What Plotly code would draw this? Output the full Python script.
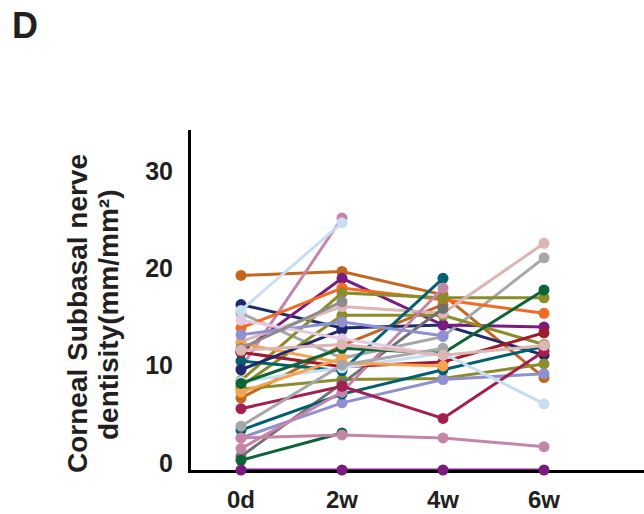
import plotly.graph_objects as go

# Visits and y-axis ticks
timepoints = ["0d", "2w", "4w", "6w"]
y_ticks = [0, 10, 20, 30]

# Corneal subbasal nerve density per eye at each visit (None = visit not recorded)
density = [
    [20.0, 20.4, 18.0, 9.5],
    [7.4, 12.8, 17.0, None],
    [17.0, 14.6, 14.9, 11.8],
    [16.1, 11.5, 13.7, 21.8],
    [10.5, 25.9, None, None],
    [12.1, 19.7, 14.9, 14.7],
    [14.6, 18.7, 17.5, 16.1],
    [9.2, 18.2, 17.7, 17.7],
    [8.6, 15.9, 15.9, 12.9],
    [8.3, 9.3, 9.4, 10.9],
    [13.2, 16.8, 16.1, 23.3],
    [1.4, 8.9, 16.6, None],
    [3.3, 6.9, 9.3, 9.9],
    [4.1, 7.8, 10.3, 12.7],
    [11.2, 10.2, 19.7, None],
    [1.0, 3.8, None, None],
    [3.3, 3.6, 3.3, 2.4],
    [2.2, 8.0, 18.7, None],
    [6.3, 8.6, 5.3, 12.2],
    [12.1, 10.6, 11.1, 14.1],
    [9.1, 10.5, 12.0, 6.8],
    [13.0, 11.0, 10.7, None],
    [8.0, 11.5, None, None],
    [8.9, 12.5, 12.0, 18.5],
    [10.3, 14.4, None, None],
    [13.9, 15.2, 13.8, None],
    [15.4, 13.5, 11.8, None],
    [4.5, 10.8, 12.5, None],
    [12.5, 17.3, None, None],
    [12.3, 12.9, 11.8, 12.8],
    [16.4, 25.4, None, None],
    [0.0, 0.0, 0.0, 0.0],
]

colors = [
    "#c4661f", "#c4661f", "#1e2a6b", "#a7a7a9", "#c585a9", "#7a1c7f",
    "#f36a21", "#8c8c2b", "#8c8c2b", "#8c8c2b", "#dcb5b4", "#707070",
    "#8e90d2", "#00606f", "#00606f", "#0b6436", "#c585a9", "#c585a9",
    "#a21f4f", "#9e1a2f", "#c7ddf2", "#f6a34f", "#f6a34f", "#0b6436",
    "#1e2a6b", "#8e90d2", "#e3cbe6", "#a7a7a9", "#8c8c8c", "#dcb5b4",
    "#c7ddf2", "#7a1c7f",
]

FONT = "Liberation Sans, Arial, Helvetica, sans-serif"

fig = go.Figure()
for vals, col in zip(density, colors):
    xs = [i for i, v in enumerate(vals) if v is not None]
    ys = [v for v in vals if v is not None]
    fig.add_trace(go.Scatter(
        x=xs, y=ys, mode="lines+markers",
        line=dict(color=col, width=3),
        marker=dict(color=col, size=11),
        cliponaxis=False, showlegend=False, hoverinfo="skip",
    ))

fig.update_layout(
    width=644, height=514,
    margin=dict(l=191, r=0, t=130, b=44),
    plot_bgcolor="white", paper_bgcolor="white",
    font=dict(family=FONT, color="#231f20"),
    xaxis=dict(
        range=[-0.495, 3.99], tickvals=list(range(len(timepoints))),
        ticktext=timepoints, showgrid=False, zeroline=False,
        showline=True, linecolor="black", linewidth=3, ticks="",
        tickfont=dict(size=24, family=FONT, weight="bold", color="#231f20"),
        ticklabelstandoff=6, layer="below traces", automargin=False,
    ),
    yaxis=dict(
        range=[0, 34.94], tickvals=y_ticks, showgrid=False, zeroline=False,
        showline=True, linecolor="black", linewidth=3, ticks="",
        tickfont=dict(size=25, family=FONT, weight="bold", color="#231f20"),
        ticklabelstandoff=10, ticklabelshift=-7, layer="below traces",
        automargin=False,
    ),
)

# Rotated two-line axis title, panel letter
W, H = 453.0, 340.0
def px_x(p):
    return (p - 191) / W
def px_y(p):
    return (470 - p) / H

title_font = dict(family=FONT, size=28, color="#231f20")
fig.add_annotation(text="<b>Corneal Subbasal nerve</b>", textangle=-90,
                   xref="paper", yref="paper", x=px_x(77), y=px_y(314),
                   xanchor="center", yanchor="middle", showarrow=False,
                   font=title_font)
fig.add_annotation(text="<b>dentisity(mm/mm²)</b>", textangle=-90,
                   xref="paper", yref="paper", x=px_x(108), y=px_y(315),
                   xanchor="center", yanchor="middle", showarrow=False,
                   font=title_font)
fig.add_annotation(text="<b>D</b>", xref="paper", yref="paper",
                   x=px_x(25), y=px_y(26), xanchor="center", yanchor="middle",
                   showarrow=False, font=dict(family=FONT, size=36, color="#231f20"))

fig.write_html("out.html")
